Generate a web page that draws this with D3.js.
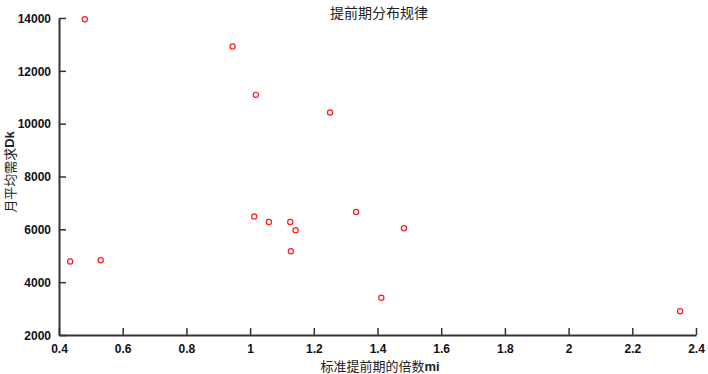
<!DOCTYPE html>
<html>
<head>
<meta charset="utf-8">
<script src="https://cdn.jsdelivr.net/npm/d3@7"></script>
<style>
  body { margin: 0; background: #fff; }
  svg { display: block; }
</style>
</head>
<body>
<svg width="708" height="374"></svg>
<script>
// --- DATA ---
const mi = [0.481, 0.945, 1.018, 1.251, 1.013, 1.059, 1.126, 1.143, 1.128, 1.333, 1.483, 1.412, 0.435, 0.531, 2.350];
const dk = [13950, 12920, 11090, 10420, 6490, 6280, 6280, 5970, 5170, 6660, 6040, 3410, 4780, 4830, 2900];
const xTicks = [0.4, 0.6, 0.8, 1, 1.2, 1.4, 1.6, 1.8, 2, 2.2, 2.4];
const yTicks = [2000, 4000, 6000, 8000, 10000, 12000, 14000];
const title = "提前期分布规律";
const xLabel = "标准提前期的倍数";
const yLabel = "月平均需求";

const svg = d3.select("svg");
const plotLeft = 59, plotRight = 696, plotTop = 18, plotBottom = 335;

const x = d3.scaleLinear().domain([0.4, 2.4]).range([plotLeft, plotRight]);
const y = d3.scaleLinear().domain([2000, 14000]).range([plotBottom, plotTop]);

const axisColor = "#333";

// --- AXES ---
const xAxis = svg.append("g")
    .attr("transform", `translate(0,${plotBottom})`)
    .call(d3.axisBottom(x).tickValues(xTicks).tickFormat(d => d).tickSizeInner(-7).tickSizeOuter(0).tickPadding(9));

const yAxis = svg.append("g")
    .attr("transform", `translate(${plotLeft},0)`)
    .call(d3.axisLeft(y).tickValues(yTicks).tickFormat(d => d).tickSizeInner(-7).tickSizeOuter(0).tickPadding(8));

[xAxis, yAxis].forEach(g => {
    g.select(".domain").attr("stroke", axisColor).attr("stroke-width", 2);
    g.selectAll(".tick line").attr("stroke", axisColor).attr("stroke-width", 1.5);
    g.selectAll(".tick text")
        .attr("fill", "#111")
        .style("font-family", "'Liberation Sans', Arial, sans-serif")
        .style("font-weight", "bold")
        .style("font-size", "12px");
});
yAxis.selectAll(".tick text").attr("dy", "0.35em");

// --- POINTS ---
svg.append("g").selectAll("circle")
    .data(mi.map((v, i) => [v, dk[i]]))
    .enter()
    .append("circle")
    .attr("cx", d => x(d[0]))
    .attr("cy", d => y(d[1]))
    .attr("r", 2.6)
    .attr("fill", "none")
    .attr("stroke", "#ff1a1a")
    .attr("stroke-width", 1.2);

// --- TEXT ---
const cjk = "'Noto Sans CJK SC', sans-serif";

svg.append("text")
    .attr("x", 379).attr("y", 18)
    .attr("text-anchor", "middle")
    .style("font-family", cjk)
    .style("font-size", "14px")
    .attr("fill", "#222")
    .text(title);

const xl = svg.append("text")
    .attr("x", 380).attr("y", 371)
    .attr("text-anchor", "middle")
    .style("font-family", cjk)
    .style("font-size", "13px")
    .attr("fill", "#222");
xl.append("tspan").text(xLabel);
xl.append("tspan").style("font-family", "'Liberation Sans', Arial, sans-serif").style("font-weight", "bold").text("mi");

const yl = svg.append("text")
    .attr("transform", "translate(9,172) rotate(-90)")
    .attr("text-anchor", "middle")
    .attr("dominant-baseline", "central")
    .style("font-family", cjk)
    .style("font-size", "13px")
    .attr("fill", "#222");
yl.append("tspan").text(yLabel);
yl.append("tspan").style("font-family", "'Liberation Sans', Arial, sans-serif").style("font-weight", "bold").text("Dk");
</script>
</body>
</html>
